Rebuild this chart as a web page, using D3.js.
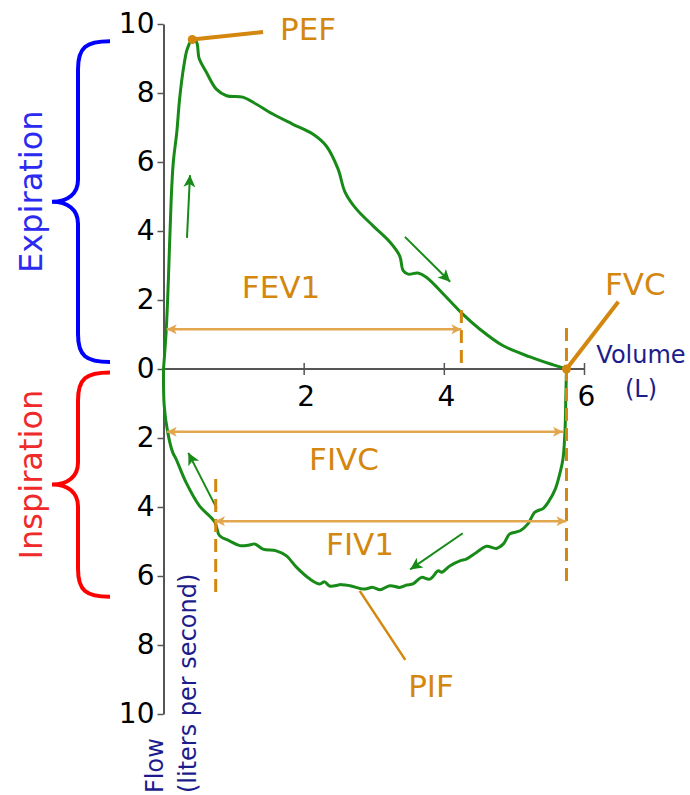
<!DOCTYPE html>
<html>
<head>
<meta charset="utf-8">
<script src="https://cdn.jsdelivr.net/npm/d3@7"></script>
<style>
  html, body { margin: 0; padding: 0; background: #fff; }
  svg { display: block; font-family: "DejaVu Sans", Verdana, sans-serif; }
</style>
</head>
<body>
<svg id="chart" width="690" height="795"></svg>
<script>
// Flow–volume loop: volume (L) on x, flow (L/s) on y; inspiration is negative flow.
const expVolume = [0, 0.04, 0.07, 0.11, 0.14, 0.19, 0.23, 0.29, 0.34, 0.41, 0.47, 0.51, 0.61, 0.75, 0.90, 1.13, 1.32, 1.56, 1.84, 2.13, 2.32, 2.49, 2.59, 2.75, 2.99, 3.23, 3.37, 3.42, 3.49, 3.63, 3.75, 4.06, 4.27, 4.51, 4.84, 5.23, 5.56, 5.75];
const expFlow   = [0, 1.16, 2.61, 4.93, 6.00, 6.87, 7.83, 8.78, 9.28, 9.55, 9.48, 8.99, 8.61, 8.12, 7.92, 7.88, 7.68, 7.39, 7.10, 6.81, 6.47, 5.80, 5.13, 4.64, 4.15, 3.68, 3.28, 2.85, 2.75, 2.78, 2.66, 2.03, 1.59, 1.16, 0.68, 0.35, 0.12, 0];

const inspVolume = [0, 0.01, 0.06, 0.13, 0.18, 0.32, 0.51, 0.73, 0.80, 0.94, 1.09, 1.23, 1.30, 1.42, 1.61, 1.75, 1.90, 2.09, 2.23, 2.30, 2.37, 2.54, 2.66, 2.85, 2.99, 3.09, 3.23, 3.37, 3.47, 3.56, 3.68, 3.80, 3.92, 3.97, 4.09, 4.23, 4.32, 4.47, 4.61, 4.75, 4.85, 4.94, 5.09, 5.20, 5.30, 5.42, 5.49, 5.59, 5.66, 5.70, 5.73, 5.74, 5.75];
const inspFlow   = [0, -1.06, -1.83, -2.41, -2.61, -3.28, -3.96, -4.43, -4.83, -4.98, -5.12, -5.10, -5.07, -5.22, -5.27, -5.41, -5.75, -6.09, -6.23, -6.17, -6.29, -6.25, -6.28, -6.38, -6.33, -6.40, -6.28, -6.33, -6.26, -6.23, -6.04, -6.09, -5.85, -5.89, -5.70, -5.56, -5.51, -5.31, -5.14, -5.20, -5.07, -4.78, -4.69, -4.49, -4.15, -4.04, -3.86, -3.48, -2.99, -2.61, -1.74, -0.87, 0];

const flowTicks = [-10, -8, -6, -4, -2, 0, 2, 4, 6, 8, 10];
const volumeTicks = [2, 4, 6];

// key measurements
const PEF = [0.41, 9.55];        // volume, flow at peak expiratory flow
const FVC = 5.75;                // forced vital capacity
const FEV1 = 4.25;               // volume exhaled in first second
const FIV1 = 0.745;              // start point of the FIV1 span
const PIF = [2.80, -6.43];       // peak inspiratory flow point
const fev1ArrowFlow = 1.15;
const fivcArrowFlow = -1.82;
const fiv1ArrowFlow = -4.41;

// direction arrows along the loop: [tailVol, tailFlow, headVol, headFlow]
const directionArrows = [
  [0.335, 3.80, 0.378, 5.62],
  [3.445, 3.83, 4.09, 2.53],
  [0.759, -4.04, 0.354, -2.43],
  [4.27, -4.76, 3.52, -5.81]
];

// brace spans (flow values)
const expirationSpan = [9.5, 0.2];
const inspirationSpan = [-0.1, -6.6];

const svg = d3.select("#chart");
const x = d3.scaleLinear().domain([0, 6]).range([163.5, 584]);
const y = d3.scaleLinear().domain([-10, 10]).range([714, 24]);

const GREEN = "#178a17";
const ORANGE = "#d4870f";
const ORANGE_LIGHT = "#e2a64e";
const NAVY = "#1c1c8c";

const defs = svg.append("defs");
function marker(id, color, w, h) {
  defs.append("marker")
    .attr("id", id)
    .attr("viewBox", "0 0 10 10")
    .attr("refX", 10).attr("refY", 5)
    .attr("markerUnits", "userSpaceOnUse")
    .attr("markerWidth", w).attr("markerHeight", h)
    .attr("orient", "auto-start-reverse")
    .append("path")
    .attr("d", "M0,0 L10,5 L0,10 L2.5,5 Z")
    .attr("fill", color);
}
marker("headGreen", GREEN, 16, 12);
marker("headOrange", ORANGE_LIGHT, 12, 10);

// axes
const yAxis = svg.append("g")
  .attr("transform", `translate(${x(0)},0)`)
  .call(d3.axisLeft(y).tickValues(flowTicks).tickFormat(d => Math.abs(d)).tickSize(6).tickSizeOuter(0).tickPadding(3));
yAxis.select(".domain").attr("stroke", "#555").attr("stroke-width", 2);
yAxis.selectAll(".tick line").attr("stroke", "#555").attr("stroke-width", 1.5);
yAxis.selectAll("text").attr("font-size", 28).attr("fill", "#000").attr("font-family", "DejaVu Sans");

const xAxis = svg.append("g")
  .attr("transform", `translate(0,${y(0)})`)
  .call(d3.axisBottom(x).tickValues(volumeTicks).tickFormat(d => d).tickSize(6).tickSizeOuter(0));
xAxis.select(".domain").attr("stroke", "#555").attr("stroke-width", 2)
  .attr("d", `M${x(0)},0H${x(6)}`);
xAxis.selectAll(".tick line").attr("stroke", "#555").attr("stroke-width", 1.5).attr("y1", -6).attr("y2", 6);
xAxis.selectAll("text").attr("font-size", 28).attr("fill", "#000")
  .attr("font-family", "DejaVu Sans").attr("dy", null).attr("y", 37).attr("x", 2);

// loop curves
const line = d3.line().x(d => x(d[0])).y(d => y(d[1])).curve(d3.curveCatmullRom.alpha(0.5));
const expPts = expVolume.map((v, i) => [v, expFlow[i]]);
const inspPts = inspVolume.map((v, i) => [v, inspFlow[i]]);
svg.append("path").attr("d", line(expPts)).attr("fill", "none").attr("stroke", GREEN).attr("stroke-width", 3);
svg.append("path").attr("d", line(inspPts)).attr("fill", "none").attr("stroke", GREEN).attr("stroke-width", 3);

// direction arrows
svg.selectAll(".dir").data(directionArrows).enter().append("line")
  .attr("x1", d => x(d[0])).attr("y1", d => y(d[1]))
  .attr("x2", d => x(d[2])).attr("y2", d => y(d[3]))
  .attr("stroke", GREEN).attr("stroke-width", 2)
  .attr("marker-end", "url(#headGreen)");

// dashed guide lines
const dashes = [
  [FEV1, 1.71, 0],
  [FVC, 1.19, -6.35],
  [FIV1, -3.19, -6.49]
];
svg.selectAll(".dash").data(dashes).enter().append("line")
  .attr("x1", d => x(d[0])).attr("x2", d => x(d[0]))
  .attr("y1", d => y(d[1])).attr("y2", d => y(d[2]))
  .attr("stroke", ORANGE).attr("stroke-width", 3)
  .attr("stroke-dasharray", "13,7");

// measurement spans
const spans = [
  [0.046, FEV1, fev1ArrowFlow],
  [0.046, 5.70, fivcArrowFlow],
  [FIV1 - 0.01, FVC, fiv1ArrowFlow]
];
svg.selectAll(".span").data(spans).enter().append("line")
  .attr("x1", d => x(d[0])).attr("x2", d => x(d[1]))
  .attr("y1", d => y(d[2])).attr("y2", d => y(d[2]))
  .attr("stroke", ORANGE_LIGHT).attr("stroke-width", 2.5)
  .attr("marker-start", "url(#headOrange)")
  .attr("marker-end", "url(#headOrange)");

// leader lines
const leaders = [
  [PEF[0], PEF[1], 1.42, 9.77, 4],
  [FVC, 0, 6.49, 1.95, 4],
  [PIF[0], PIF[1], 3.45, -8.43, 2.5]
];
svg.selectAll(".leader").data(leaders).enter().append("line")
  .attr("x1", d => x(d[0])).attr("y1", d => y(d[1]))
  .attr("x2", d => x(d[2])).attr("y2", d => y(d[3]))
  .attr("stroke", ORANGE).attr("stroke-width", d => d[4]);
svg.selectAll(".dot").data([PEF, [FVC, 0]]).enter().append("circle")
  .attr("cx", d => x(d[0])).attr("cy", d => y(d[1])).attr("r", 4.5)
  .attr("fill", ORANGE);

// labels
function label(text, px, py, anchor, color, size) {
  return svg.append("text").attr("x", px).attr("y", py)
    .attr("text-anchor", anchor).attr("fill", color)
    .attr("font-size", size).text(text);
}
label("PEF", 280, 40, "start", ORANGE, 31);
label("FVC", 605, 295, "start", ORANGE, 31);
label("FEV1", 281, 298, "middle", ORANGE, 31);
label("FIVC", 344, 470, "middle", ORANGE, 31);
label("FIV1", 360, 555, "middle", ORANGE, 31);
label("PIF", 431, 697, "middle", ORANGE, 31);
label("Volume", 641, 363, "middle", NAVY, 24);
label("(L)", 641, 397, "middle", NAVY, 24);

svg.append("text").attr("transform", "translate(163,793) rotate(-90)")
  .attr("fill", NAVY).attr("font-size", 24).text("Flow");
svg.append("text").attr("transform", "translate(196,793) rotate(-90)")
  .attr("fill", NAVY).attr("font-size", 24).text("(liters per second)");

// braces
function brace(top, bottom) {
  const t = y(top), b = y(bottom), m = (t + b) / 2;
  const tip = 110, v = 78, c = 52;
  return `M${tip},${t} C${v + 8},${t} ${v},${t + 6} ${v},${t + 28}` +
    ` L${v},${m - 22} C${v},${m - 8} ${v - 10},${m} ${c},${m}` +
    ` C${v - 10},${m} ${v},${m + 8} ${v},${m + 22}` +
    ` L${v},${b - 28} C${v},${b - 6} ${v + 8},${b} ${tip},${b}`;
}
svg.append("path").attr("d", brace(...expirationSpan)).attr("fill", "none")
  .attr("stroke", "#0000ff").attr("stroke-width", 4);
svg.append("path").attr("d", brace(...inspirationSpan)).attr("fill", "none")
  .attr("stroke", "#ff0000").attr("stroke-width", 4);

svg.append("text")
  .attr("transform", `translate(42,${(y(expirationSpan[0]) + y(expirationSpan[1])) / 2 - 10}) rotate(-90)`)
  .attr("text-anchor", "middle").attr("fill", "#2a2af0").attr("font-size", 32).text("Expiration");
svg.append("text")
  .attr("transform", `translate(42,${(y(inspirationSpan[0]) + y(inspirationSpan[1])) / 2 - 10}) rotate(-90)`)
  .attr("text-anchor", "middle").attr("fill", "#f02a2a").attr("font-size", 32).text("Inspiration");
</script>
</body>
</html>
